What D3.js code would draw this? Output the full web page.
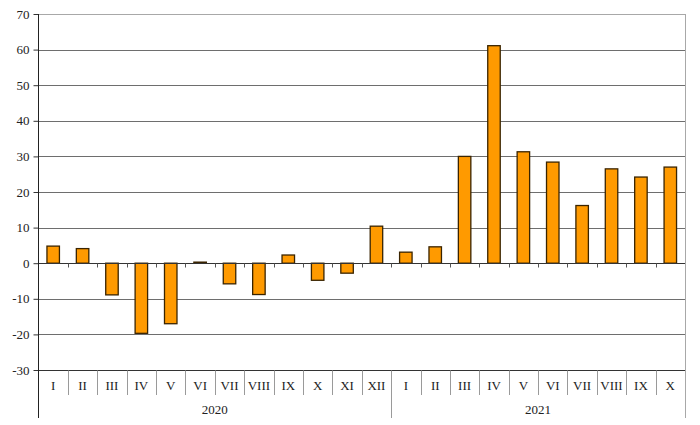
<!DOCTYPE html>
<html>
  <head>
    <meta charset="utf-8">
    <script src="https://unpkg.com/d3@7/dist/d3.min.js"></script>
    <style>
      body { margin: 0; background: #fff; }
      text { font-family: "Liberation Serif", "Times New Roman", serif; font-size: 13px; fill: #222; }
      .grid line { stroke: #6e6e6e; stroke-width: 1px; }
      .bar { fill: #ff9a00; stroke: #3a2400; stroke-width: 1.3px; }
      .sep { stroke: #9a9a9a; stroke-width: 1px; }
    </style>
  </head>
  <body>
    <script>
      const months = ['I', 'II', 'III', 'IV', 'V', 'VI', 'VII', 'VIII', 'IX', 'X', 'XI', 'XII',
        'I', 'II', 'III', 'IV', 'V', 'VI', 'VII', 'VIII', 'IX', 'X'];
      const years = ['2020', '2021'];
      const yearLengths = [12, 10];
      const values = [4.8, 4.1, -8.9, -19.7, -17.0, 0.3, -5.8, -8.8, 2.3, -4.8, -2.8, 10.4,
        3.1, 4.6, 30.0, 61.1, 31.3, 28.4, 16.2, 26.5, 24.2, 27.0];
      const yTicks = [-30, -20, -10, 0, 10, 20, 30, 40, 50, 60, 70];

      const width = 700;
      const height = 425;
      const plotLeft = 38.5;
      const plotRight = 685;
      const plotTop = 14;
      const plotBottom = 370;

      const svg = d3.select('body')
        .append('svg')
        .attr('width', width)
        .attr('height', height);

      const x = d3.scaleBand()
        .domain(months.map((d, i) => i))
        .range([plotLeft, plotRight])
        .paddingInner(0.575)
        .paddingOuter(0.2875);

      const y = d3.scaleLinear()
        .domain([-30, 70])
        .range([plotBottom, plotTop]);

      const step = x.step();
      const bandStart = i => plotLeft + i * step;

      // gridlines
      svg.append('g')
        .classed('grid', true)
        .selectAll('line')
        .data(yTicks.filter(d => d !== 70 && d !== -30 && d !== 0))
        .enter()
        .append('line')
        .attr('x1', plotLeft)
        .attr('x2', plotRight)
        .attr('y1', d => Math.round(y(d)) + 0.5)
        .attr('y2', d => Math.round(y(d)) + 0.5);

      // top and right border
      svg.append('line')
        .attr('x1', plotLeft).attr('x2', plotRight)
        .attr('y1', Math.round(y(70)) + 0.5).attr('y2', Math.round(y(70)) + 0.5)
        .attr('stroke', '#a8a8a8');
      svg.append('line')
        .attr('x1', plotRight + 0.5).attr('x2', plotRight + 0.5)
        .attr('y1', plotTop).attr('y2', 418)
        .attr('stroke', '#a8a8a8');

      // bars
      svg.selectAll('.bar')
        .data(values)
        .enter()
        .append('rect')
        .classed('bar', true)
        .attr('x', (d, i) => x(i))
        .attr('width', x.bandwidth())
        .attr('y', d => y(Math.max(0, d)))
        .attr('height', d => Math.abs(y(d) - y(0)));

      // zero axis with small ticks
      const zero = Math.round(y(0)) + 0.5;
      svg.append('line')
        .attr('x1', plotLeft).attr('x2', plotRight)
        .attr('y1', zero).attr('y2', zero)
        .attr('stroke', '#333');
      svg.selectAll('.zt')
        .data(d3.range(1, months.length))
        .enter()
        .append('line')
        .attr('x1', i => Math.round(bandStart(i)) + 0.5)
        .attr('x2', i => Math.round(bandStart(i)) + 0.5)
        .attr('y1', zero)
        .attr('y2', zero + 4)
        .attr('stroke', '#555');

      // bottom axis line
      const base = Math.round(y(-30)) + 0.5;
      svg.append('line')
        .attr('x1', plotLeft).attr('x2', plotRight)
        .attr('y1', base).attr('y2', base)
        .attr('stroke', '#333');

      // category separators
      const yearStarts = [0, yearLengths[0], yearLengths[0] + yearLengths[1]];
      svg.selectAll('.sep')
        .data(d3.range(1, months.length))
        .enter()
        .append('line')
        .classed('sep', true)
        .attr('x1', i => Math.round(bandStart(i)) + 0.5)
        .attr('x2', i => Math.round(bandStart(i)) + 0.5)
        .attr('y1', base)
        .attr('y2', i => yearStarts.includes(i) ? 418 : 395);

      // month labels
      svg.selectAll('.month')
        .data(months)
        .enter()
        .append('text')
        .attr('x', (d, i) => x(i) + x.bandwidth() / 2)
        .attr('y', 390)
        .attr('text-anchor', 'middle')
        .text(d => d);

      // year labels
      svg.selectAll('.year')
        .data(years)
        .enter()
        .append('text')
        .attr('x', (d, i) => (bandStart(yearStarts[i]) + bandStart(yearStarts[i + 1])) / 2)
        .attr('y', 414)
        .attr('text-anchor', 'middle')
        .text(d => d);

      // y axis
      const yAxis = svg.append('g')
        .attr('transform', `translate(${plotLeft},0)`)
        .call(d3.axisLeft(y)
          .tickValues(yTicks)
          .tickFormat(d => String(d))
          .tickSize(5)
          .tickPadding(4));
      yAxis.select('.domain').remove();
      yAxis.selectAll('line').attr('stroke', '#333');
      yAxis.selectAll('text')
        .style('font-family', '"Liberation Serif", "Times New Roman", serif')
        .style('font-size', '13px')
        .attr('fill', '#222');
      svg.append('line')
        .attr('x1', plotLeft).attr('x2', plotLeft)
        .attr('y1', plotTop).attr('y2', 418)
        .attr('stroke', '#222');
    </script>
  </body>
</html>
